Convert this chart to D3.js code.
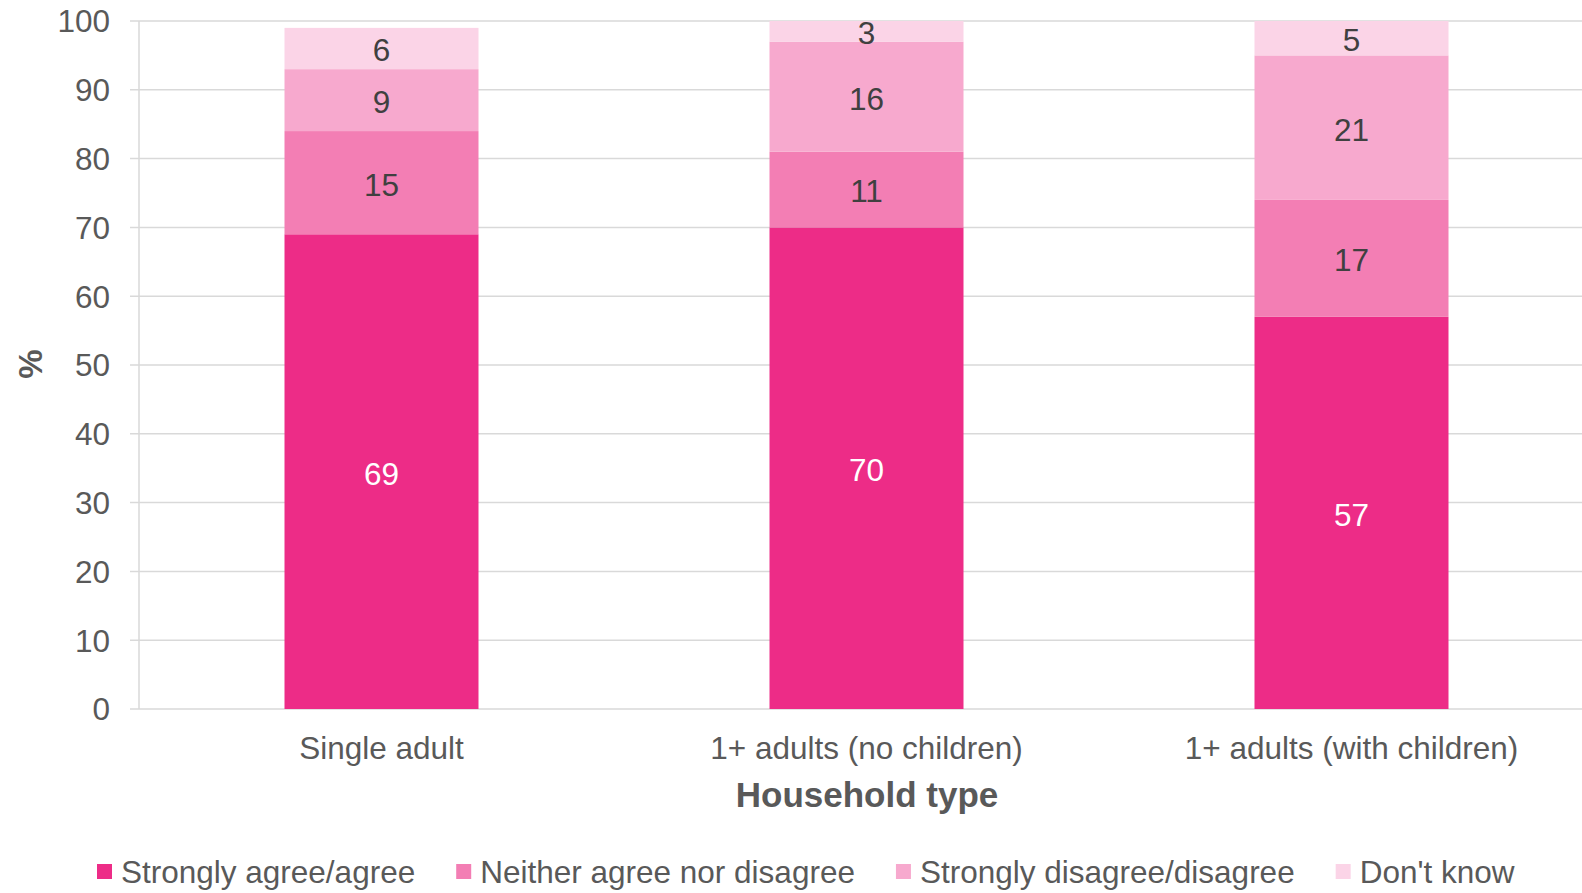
<!DOCTYPE html>
<html><head><meta charset="utf-8">
<script src="https://cdn.jsdelivr.net/npm/d3@7"></script>
<style>body{margin:0;background:#fff;}svg{display:block;font-family:"Liberation Sans",Arial,sans-serif;}</style>
</head><body>
<svg id="c" width="1582" height="893"></svg>
<script>
const categories = ["Single adult", "1+ adults (no children)", "1+ adults (with children)"];
const seriesNames = ["Strongly agree/agree", "Neither agree nor disagree", "Strongly disagree/disagree", "Don't know"];
const agree = [69, 70, 57];
const neither = [15, 11, 17];
const disagree = [9, 16, 21];
const dontKnow = [6, 3, 5];
const yTicks = [0, 10, 20, 30, 40, 50, 60, 70, 80, 90, 100];
const colors = ["#ed2c87", "#f37eb4", "#f7a9ce", "#fbd4e7"];
const labelColors = ["#ffffff", "#404040", "#404040", "#404040"];

const seriesValues = [agree, neither, disagree, dontKnow];
const rows = categories.map((c, i) => {
  const r = {cat: c};
  seriesNames.forEach((s, j) => r[s] = seriesValues[j][i]);
  return r;
});
const stacked = d3.stack().keys(seriesNames)(rows);

const svg = d3.select("#c");
const mLeft = 139, mRight = 1594, mTop = 21, mBottom = 709;
const x = d3.scaleBand().domain(categories).range([mLeft, mRight]).paddingInner(0.6).paddingOuter(0.3);
const y = d3.scaleLinear().domain([0, 100]).range([mBottom, mTop]);

// gridlines
svg.append("g").selectAll("line").data(yTicks).join("line")
  .attr("x1", 130).attr("x2", 1582)
  .attr("y1", d => y(d)).attr("y2", d => y(d))
  .attr("stroke", "#d9d9d9").attr("stroke-width", 1.5);
svg.append("line").attr("x1", mLeft).attr("x2", mLeft).attr("y1", mTop).attr("y2", mBottom)
  .attr("stroke", "#d9d9d9").attr("stroke-width", 1.5);

// y tick labels
svg.append("g").selectAll("text").data(yTicks).join("text")
  .attr("x", 110).attr("y", d => y(d)).attr("dy", "0.36em")
  .attr("text-anchor", "end").attr("font-size", 31.5).attr("fill", "#595959")
  .text(d => d);

// bars
const g = svg.append("g");
stacked.forEach((layer, j) => {
  g.append("g").selectAll("rect").data(layer).join("rect")
    .attr("x", d => x(d.data.cat)).attr("width", x.bandwidth())
    .attr("y", d => y(d[1])).attr("height", d => y(d[0]) - y(d[1]))
    .attr("fill", colors[j]);
});
stacked.forEach((layer, j) => {
  g.append("g").selectAll("text").data(layer).join("text")
    .attr("x", d => x(d.data.cat) + x.bandwidth() / 2)
    .attr("y", d => (y(d[0]) + y(d[1])) / 2).attr("dy", "0.41em")
    .attr("text-anchor", "middle").attr("font-size", 31.5).attr("fill", labelColors[j])
    .text(d => d[1] - d[0]);
});

// x category labels
svg.append("g").selectAll("text").data(categories).join("text")
  .attr("x", d => x(d) + x.bandwidth() / 2).attr("y", 759)
  .attr("text-anchor", "middle").attr("font-size", 31.5).attr("fill", "#595959")
  .text(d => d);

// axis titles
svg.append("text").attr("x", 867).attr("y", 807).attr("text-anchor", "middle")
  .attr("font-size", 35).attr("font-weight", "bold").attr("fill", "#595959").text("Household type");
svg.append("text").attr("transform", "translate(42,364) rotate(-90)").attr("text-anchor", "middle")
  .attr("font-size", 33).attr("font-weight", "bold").attr("fill", "#595959").text("%");

// legend
const leg = svg.append("g");
let lx = 97;
seriesNames.forEach((s, j) => {
  leg.append("rect").attr("x", lx).attr("y", 864).attr("width", 15).attr("height", 15).attr("fill", colors[j]);
  const t = leg.append("text").attr("x", lx + 24).attr("y", 883).attr("font-size", 31.5).attr("fill", "#595959").text(s);
  lx += 24 + t.node().getComputedTextLength() + 41;
});
</script>
</body></html>
